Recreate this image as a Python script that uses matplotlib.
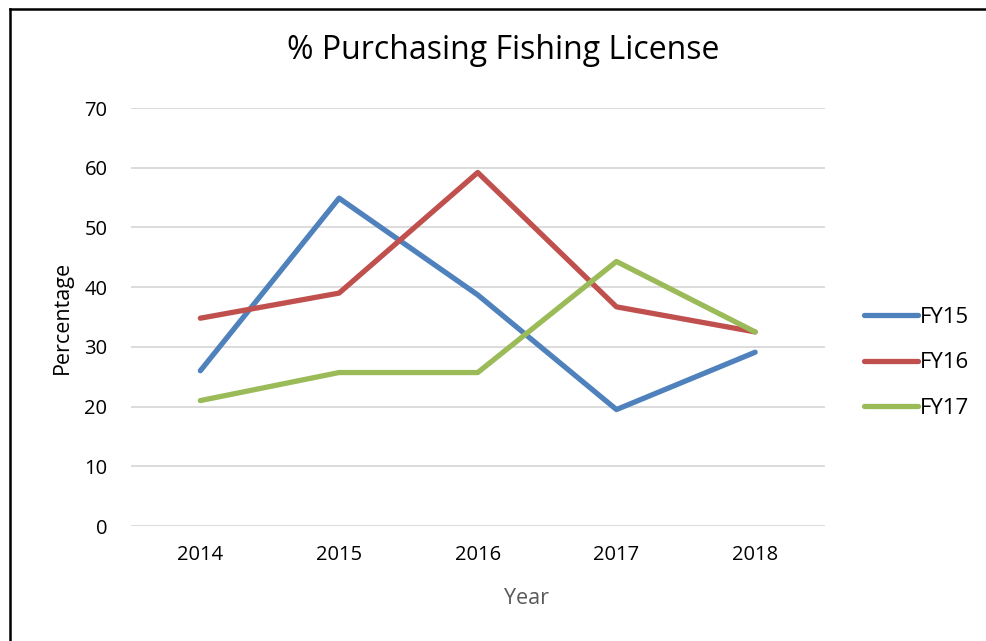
import matplotlib
matplotlib.use("Agg")
import matplotlib.pyplot as plt
from matplotlib.lines import Line2D

plt.rcParams['font.family'] = ['Open Sans', 'DejaVu Sans']

years = ["2014", "2015", "2016", "2017", "2018"]
fy15 = [26.0, 54.9, 38.7, 19.5, 29.1]
fy16 = [34.8, 39.0, 59.2, 36.7, 32.5]
fy17 = [21.0, 25.7, 25.7, 44.3, 32.5]
series_names = ["FY15", "FY16", "FY17"]
colors = ["#4F81BD", "#C0504D", "#9BBB59"]
yticks = [0, 10, 20, 30, 40, 50, 60, 70]

W, H = 986, 641
fig = plt.figure(figsize=(W / 100, H / 100), dpi=100)
ax = fig.add_axes([131 / W, 1 - 526 / H, (824.5 - 131) / W, (526 - 108) / H])

x = list(range(len(years)))
for vals, name, c in zip([fy15, fy16, fy17], series_names, colors):
    ax.plot(x, vals, color=c, lw=3.8, label=name,
            solid_capstyle='round', solid_joinstyle='round')

ax.set_xlim(-0.5, len(years) - 0.5)
ax.set_ylim(0, 70)
ax.set_xticks(x)
ax.set_xticklabels(years)
ax.set_yticks(yticks)
ax.tick_params(length=0, labelsize=14.5, colors='black')
ax.tick_params(axis='y', pad=17)
ax.tick_params(axis='x', pad=14)
ax.grid(axis='y', color='#D9D9D9', lw=1.3)
ax.set_axisbelow(True)
for s in ax.spines.values():
    s.set_visible(False)

ax.set_ylabel('Percentage', fontsize=15.5, va='center', color='black')
ax.yaxis.set_label_coords((62 - 131) / 693.5, 0.5)
ax.set_xlabel('Year', fontsize=15.5, va='center', color='#595959')
ax.xaxis.set_label_coords((527 - 131) / 693.5, (526 - 598) / 418)
ax.set_title('% Purchasing Fishing License', fontsize=23, va='center',
             x=(503 - 131) / 693.5, y=(526 - 59) / 418)

leg = fig.legend(loc='upper left', bbox_to_anchor=(864 / W, 1 - 307 / H),
                 frameon=False, fontsize=16, handlelength=2.45,
                 handletextpad=0.08, labelspacing=1.1, borderpad=0,
                 borderaxespad=0)
for h in leg.legend_handles:
    h.set_linewidth(3.8)
    h.set_solid_capstyle('round')

fig.add_artist(Line2D([10 / W, 1], [1 - 9 / H, 1 - 9 / H], color='black', lw=1.8,
                      transform=fig.transFigure))
fig.add_artist(Line2D([10 / W, 10 / W], [0, 1 - 9 / H], color='black', lw=1.8,
                      transform=fig.transFigure))

fig.savefig('out.png', dpi=100)
